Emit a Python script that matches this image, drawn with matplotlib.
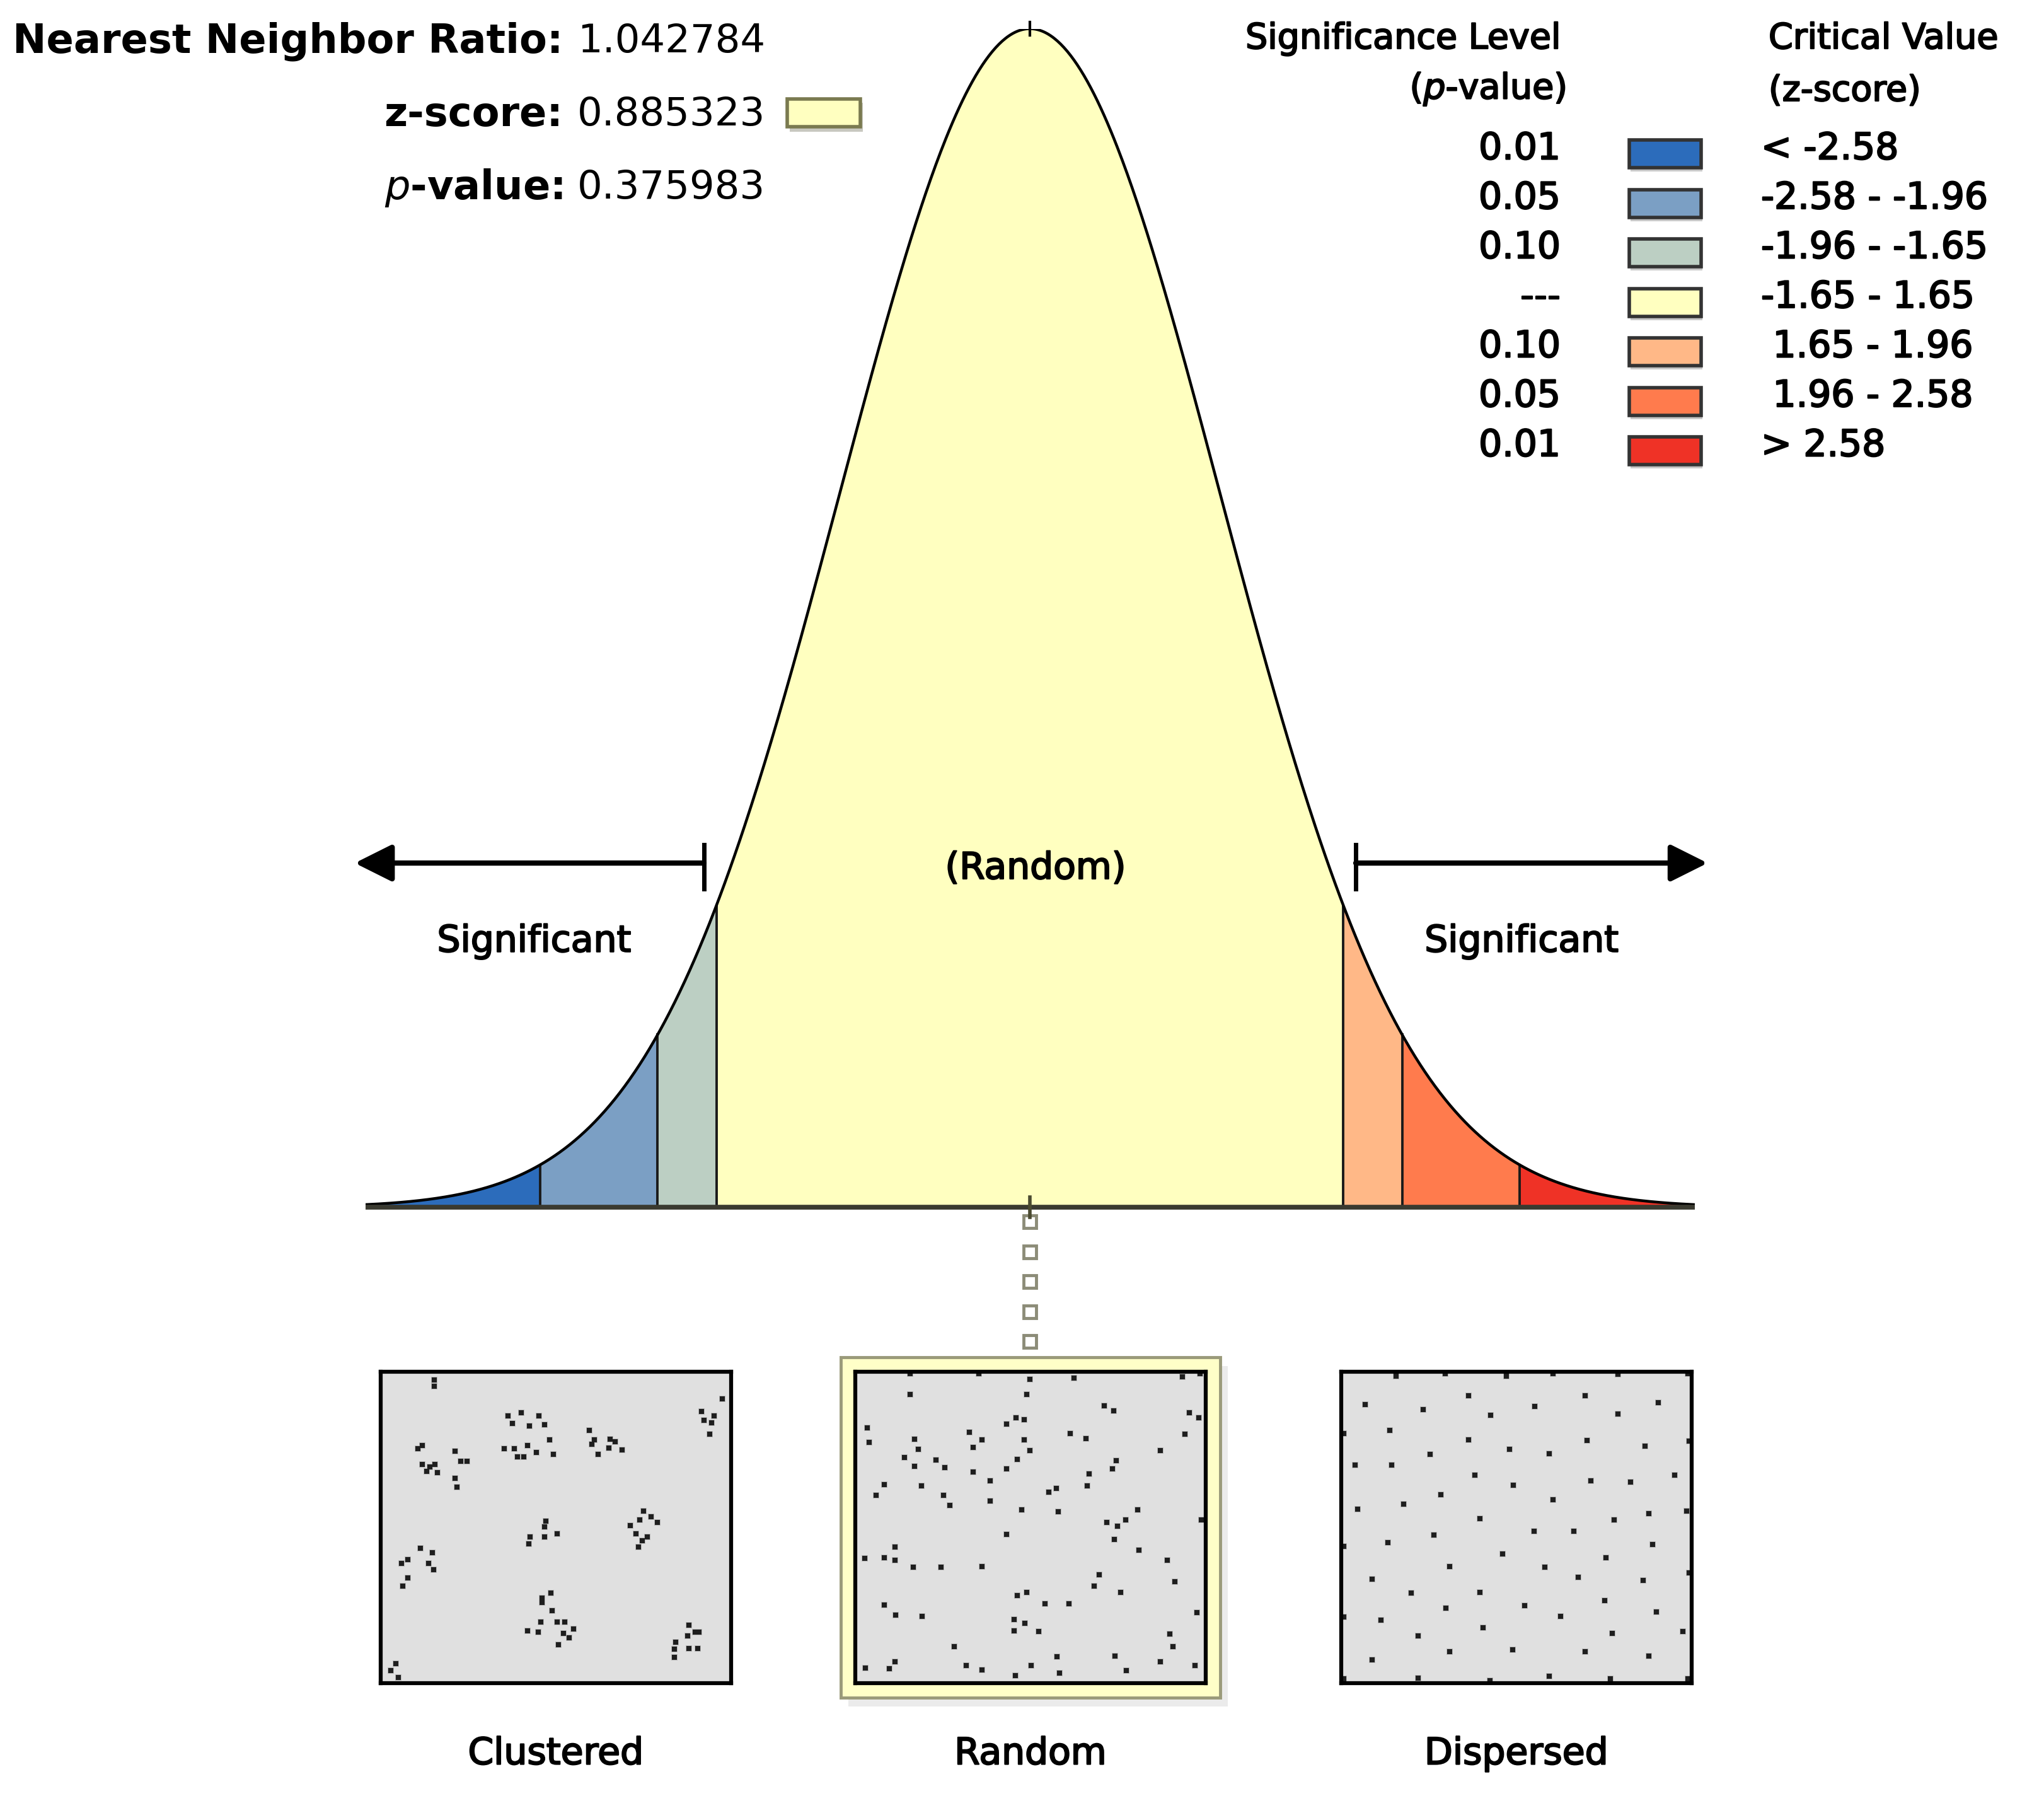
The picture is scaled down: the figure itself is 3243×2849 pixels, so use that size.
import numpy as np
import matplotlib.pyplot as plt
import matplotlib.patheffects as pe
from matplotlib.patches import Rectangle

plt.rcParams['font.family'] = ['DejaVu Sans']
plt.rcParams['mathtext.fontset'] = 'dejavusans'

# valores del informe
ratio_nn = 1.042784
z_score = 0.885323
p_value = 0.375983

# leyenda: niveles de significancia y valores criticos
niveles_p = ['0.01', '0.05', '0.10', '---', '0.10', '0.05', '0.01']
valores_criticos = ['< -2.58', '-2.58 - -1.96', '-1.96 - -1.65', '-1.65 - 1.65',
                    ' 1.65 - 1.96', ' 1.96 - 2.58', '> 2.58']
colores = ['#2c6cbb', '#7b9fc4', '#bccfc3', '#ffffc0', '#ffb887', '#ff7b4d', '#ef3226']
cortes_z = [-3.5, -2.58, -1.96, -1.65, 1.65, 1.96, 2.58, 3.5]

# patrones de puntos (0-100, y desde arriba)
agrupado_x = [15.3, 15.3, 36.4, 40.1, 37.5, 45.2, 42.5, 46.7, 35.3, 38.2, 41.9, 39.0, 40.8, 44.5, 48.2, 49.3,
              59.6, 61.0, 60.3, 65.4, 66.9, 68.8, 65.1, 62.1, 97.4, 91.5, 92.3, 95.2, 94.5, 93.8,
              10.7, 11.8, 11.8, 14.0, 15.4, 16.2, 13.2, 21.3, 22.8, 24.6, 21.3, 21.7,
              47.1, 46.7, 42.6, 46.7, 50.4, 42.3, 75.0, 73.9, 77.2, 79.0, 71.3, 72.8, 76.1, 74.6, 73.5,
              11.4, 14.7, 7.7, 5.9, 13.6, 15.1, 7.7, 6.3,
              48.5, 46.0, 46.0, 48.9, 45.6, 50.4, 52.6, 41.9, 44.9, 52.2, 53.7, 55.1, 50.7,
              87.9, 89.7, 87.5, 90.8, 84.2, 83.8, 87.9, 90.4, 83.8, 4.4, 2.9, 5.0]
agrupado_y = [2.7, 4.6, 14.2, 13.1, 16.7, 14.2, 17.4, 17.1, 24.7, 24.7, 23.7, 27.4, 27.4, 26.0, 21.9, 26.5,
              18.9, 21.9, 23.3, 21.6, 22.4, 25.1, 24.4, 26.5, 8.7, 12.8, 15.5, 14.2, 16.4, 20.1,
              24.7, 23.7, 29.7, 30.6, 29.7, 32.4, 32.0, 25.6, 28.8, 28.8, 34.2, 37.0,
              47.9, 49.8, 53.0, 53.0, 52.1, 55.3, 44.7, 47.5, 46.6, 48.4, 49.3, 52.1, 53.0, 54.3, 56.2,
              56.6, 58.0, 60.3, 61.6, 61.6, 63.5, 66.2, 68.9,
              71.0, 72.6, 74.0, 76.7, 80.4, 80.4, 80.4, 83.1, 83.6, 84.0, 85.4, 82.6, 87.7,
              81.3, 83.6, 84.9, 83.6, 86.8, 89.0, 88.9, 88.9, 91.8, 93.8, 95.9, 98.2]

aleatorio_x = [15.7, 35.3, 49.8, 62.4, 93.3, 98.4, 15.7, 49.0, 71.0, 73.7, 95.3, 98.0, 3.5, 43.1, 45.9, 48.2,
               32.5, 36.1, 33.7, 48.2, 49.8, 61.4, 65.9, 94.1, 87.1, 3.9, 16.9, 18.0, 14.1, 16.9, 23.1, 25.5,
               33.7, 43.1, 46.3, 74.5, 73.3, 66.7, 8.2, 18.8, 38.4, 55.3, 57.3, 66.1, 5.9, 25.1, 26.9, 38.4,
               47.5, 58.0, 80.5, 71.8, 74.9, 77.1, 98.8, 74.0, 43.1, 81.0, 89.0, 11.4, 2.7, 8.2, 11.4, 16.5,
               24.5, 36.1, 69.6, 68.2, 91.2, 75.7, 46.3, 49.0, 54.1, 60.9, 8.2, 11.5, 19.1, 97.5, 45.3, 48.4,
               45.3, 52.3, 89.8, 90.7, 28.2, 57.5, 74.1, 87.1, 96.9, 11.4, 2.9, 9.8, 31.6, 36.1, 50.2, 45.7,
               58.3, 77.4]
aleatorio_y = [0.7, 0.7, 2.5, 2.1, 1.6, 0.7, 7.3, 7.3, 11.0, 12.6, 13.2, 14.8, 18.1, 16.9, 14.8, 15.4,
               19.5, 21.8, 24.2, 21.8, 25.4, 19.8, 21.4, 20.0, 25.4, 22.6, 21.7, 24.9, 27.5, 30.3, 28.4, 30.8,
               32.2, 31.1, 28.2, 28.6, 31.1, 32.7, 36.2, 36.7, 35.0, 38.6, 37.4, 36.6, 39.7, 39.7, 43.0, 41.4,
               44.3, 44.9, 44.4, 48.4, 49.6, 47.5, 47.5, 53.9, 52.3, 57.2, 60.5, 56.2, 60.0, 59.7, 60.5, 62.8,
               62.8, 62.5, 65.2, 68.9, 67.5, 70.8, 71.8, 70.8, 74.4, 74.4, 74.8, 78.2, 78.5, 77.4, 79.5, 80.7,
               83.2, 83.5, 84.2, 88.2, 88.2, 91.5, 91.3, 93.2, 94.4, 93.2, 95.1, 95.3, 94.4, 95.8, 94.4, 97.6,
               96.7, 96.0]

disperso_x = [15.6, 29.6, 47.2, 60.4, 78.9, 98.9, 0.7, 22.0, 42.4, 59.3, 76.8, 98.9, 36.3, 69.6, 90.4, 6.9,
              23.3, 42.7, 55.3, 79.0, 13.9, 0.7, 36.3, 70.1, 86.7, 99.3, 25.4, 48.1, 59.3, 3.9, 14.3, 38.1,
              71.3, 82.6, 95.2, 49.1, 28.4, 60.4, 4.7, 17.8, 39.6, 77.8, 87.8, 98.5, 55.0, 66.3, 26.4, 13.3,
              0.7, 88.9, 46.1, 75.6, 30.9, 58.1, 99.3, 8.9, 67.6, 86.1, 20.0, 39.6, 52.4, 75.2, 29.9, 89.9,
              62.6, 11.3, 0.7, 40.4, 22.0, 77.3, 97.4, 30.9, 48.9, 69.6, 87.8, 8.9]
disperso_y = [1.4, 0.7, 1.4, 0.7, 0.9, 0.7, 98.6, 98.4, 99.1, 97.7, 98.6, 98.6, 7.6, 7.6, 10.0, 10.6,
              12.2, 14.0, 11.2, 13.6, 18.9, 19.8, 21.9, 22.1, 23.8, 22.3, 26.5, 24.9, 26.3, 30.0, 30.0, 33.2,
              35.0, 35.5, 33.2, 36.4, 39.4, 41.0, 44.2, 42.6, 47.2, 47.5, 45.6, 44.7, 51.2, 51.2, 52.4, 54.8,
              56.0, 55.5, 58.5, 59.7, 62.5, 62.7, 64.5, 66.5, 65.9, 67.1, 71.0, 70.8, 75.1, 73.5, 76.0, 77.2,
              78.5, 79.7, 78.8, 82.2, 84.8, 84.1, 83.4, 89.9, 89.2, 89.9, 91.2, 92.6]

patrones = [('Clustered', agrupado_x, agrupado_y, 604),
            ('Random', aleatorio_x, aleatorio_y, 1357),
            ('Dispersed', disperso_x, disperso_y, 2128)]

W, H = 3243, 2849
# trazo extra para imitar el texto algo grueso del original
grueso = [pe.withStroke(linewidth=1.6, foreground='black')]


def caja(x0, y0, x1, y1):
    # pixeles (desde arriba) -> fraccion de figura
    return [x0 / W, 1 - y1 / H, (x1 - x0) / W, (y1 - y0) / H]


def normal_pdf(z):
    return np.exp(-0.5 * z ** 2) / np.sqrt(2 * np.pi)


fig = plt.figure(figsize=(W / 100, H / 100), dpi=100)

# capa de fondo para textos y adornos (coordenadas en pixeles)
ax_bg = fig.add_axes([0, 0, 1, 1], zorder=0)
ax_bg.set_xlim(0, W)
ax_bg.set_ylim(H, 0)
ax_bg.axis('off')

# --- textos superiores izquierda ---
filas = [('Nearest Neighbor Ratio:', f'{ratio_nn:.6f}', 66),
         ('z-score:', f'{z_score:.6f}', 182),
         (r'$p$-value:', f'{p_value:.6f}', 298)]
for etiqueta, valor, yy in filas:
    ax_bg.text(893, yy, etiqueta, ha='right', va='center', fontsize=46, fontweight='bold')
    ax_bg.text(916, yy, valor, ha='left', va='center', fontsize=45)
ax_bg.add_patch(Rectangle((1253, 163), 116, 46, facecolor='#c8c8c0', edgecolor='none'))
ax_bg.add_patch(Rectangle((1249, 157), 116, 44, facecolor='#ffffc0', edgecolor='#7a7a50', lw=4))

# --- leyenda ---
ax_bg.text(2476, 62, 'Significance Level', ha='right', va='center', fontsize=40, path_effects=grueso)
ax_bg.text(2484, 141, r'($p$-value)', ha='right', va='center', fontsize=40, path_effects=grueso)
ax_bg.text(2806, 62, 'Critical Value', ha='left', va='center', fontsize=40, path_effects=grueso)
ax_bg.text(2806, 145, '(z-score)', ha='left', va='center', fontsize=40, path_effects=grueso)
for i, (p, cv, col) in enumerate(zip(niveles_p, valores_criticos, colores)):
    yy = 236 + i * 78.5
    ax_bg.text(2476, yy, p, ha='right', va='center', fontsize=42, path_effects=grueso)
    ax_bg.add_patch(Rectangle((2587, yy - 10), 114, 46, facecolor='#c8c8c8', edgecolor='none'))
    ax_bg.add_patch(Rectangle((2585, yy - 14), 114, 44, facecolor=col, edgecolor='#333333', lw=4))
    ax_bg.text(2794, yy, cv, ha='left', va='center', fontsize=42, path_effects=grueso)

# --- marco amarillo del patron aleatorio ---
ax_bg.add_patch(Rectangle((1346, 2167), 602, 540, facecolor='#dedede', edgecolor='none', alpha=0.6))
ax_bg.add_patch(Rectangle((1334, 2153), 602, 540, facecolor='#ffffc8', edgecolor='#9a9a7a', lw=3.5))

# conector punteado entre la curva y el patron
yy_con = np.linspace(1938, 2128, 5)
ax_bg.plot(np.full(5, 1634), yy_con, ls='none', marker='s', markersize=14,
           markerfacecolor='white', markeredgecolor='#8c8c78', markeredgewidth=3.5)

# --- curva normal ---
ax = fig.add_axes([579.5 / W, (H - 1915) / H, 2109 / W, 1869.5 / H], zorder=1)
ax.patch.set_alpha(0)
ax.set_xlim(-3.5, 3.5)
ax.set_ylim(0, normal_pdf(0))
ax.axis('off')

for a, b, col in zip(cortes_z[:-1], cortes_z[1:], colores):
    zz = np.linspace(a, b, 200)
    ax.fill_between(zz, 0, normal_pdf(zz), color=col, lw=0)
for c in cortes_z[1:-1]:
    ax.plot([c, c], [0, normal_pdf(c)], color='#1a1a1a', lw=2.8)
zz = np.linspace(-3.5, 3.5, 800)
ax.plot(zz, normal_pdf(zz), color='black', lw=3.2)
ax.plot([-3.5, 3.5], [0, 0], color='#3a3a30', lw=5.5, solid_capstyle='butt', clip_on=False)
pico = normal_pdf(0)
ax.plot([0, 0], [pico - 0.0022, pico + 0.0022], color='black', lw=3, clip_on=False)
ax.plot([0, 0], [-0.0035, 0.0035], color='#4a4a30', lw=4, clip_on=False)

# flechas de significancia
y_flecha = 0.1165
for x_barra, x_punta in [(-1.716, -3.555), (1.716, 3.569)]:
    ax.annotate('', xy=(x_punta, y_flecha), xytext=(x_barra, y_flecha),
                arrowprops=dict(arrowstyle='-|>,head_length=0.9,head_width=0.45', lw=6,
                                color='black', shrinkA=0, shrinkB=0, mutation_scale=40),
                annotation_clip=False)
    ax.plot([x_barra, x_barra], [0.1077, 0.1227], color='black', lw=5, clip_on=False)

ax.text(-2.61, 0.0900, 'Significant', ha='center', va='center', fontsize=42, path_effects=grueso)
ax.text(2.59, 0.0900, 'Significant', ha='center', va='center', fontsize=42, path_effects=grueso)
ax.text(0.03, 0.1147, '(Random)', ha='center', va='center', fontsize=42, path_effects=grueso)

# --- cajas de patrones ---
for nombre, px, py, x0 in patrones:
    axp = fig.add_axes(caja(x0, 2176, x0 + 556, 2670), zorder=2)
    axp.set_facecolor('#e0e0e0')
    axp.scatter(px, py, marker='s', s=60, color='#b8b8b8', linewidths=0)
    axp.scatter(px, py, marker='s', s=30, color='#1e1e1e', linewidths=0)
    axp.set_xlim(0, 100)
    axp.set_ylim(100, 0)
    axp.set_xticks([])
    axp.set_yticks([])
    for sp in axp.spines.values():
        sp.set_linewidth(4.5)
        sp.set_color('black')
    ax_bg.text(x0 + 278, 2782, nombre, ha='center', va='center', fontsize=42, path_effects=grueso)

fig.savefig('out.png', dpi=100)
